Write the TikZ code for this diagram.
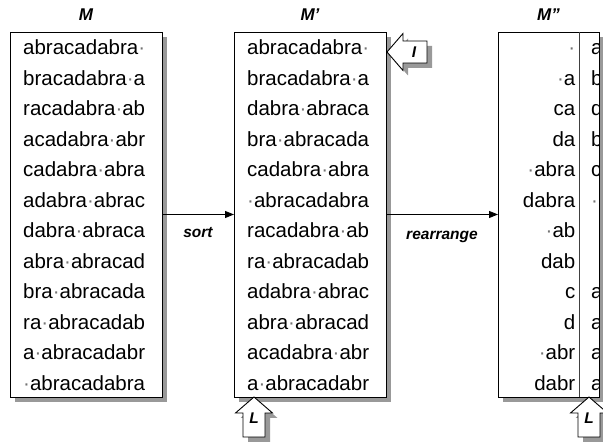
\documentclass[tikz,border=0pt]{standalone}
\usepackage{fontspec}
\setmainfont{Liberation Sans}
\usetikzlibrary{shadows,arrows.meta,calc}
\definecolor{shadowgray}{RGB}{153,153,153}
% separator between the end and the start of the rotated word
\newcommand{\sd}{\textcolor{black!55}{·}}
\tikzset{
  matbox/.style={draw=black, line width=0.9pt, fill=white, inner sep=0pt, outer sep=0pt,
    anchor=north west,
    drop shadow={shadow xshift=5pt, shadow yshift=-5pt, fill=shadowgray, opacity=1}},
  row/.style={font=\fontsize{20.5}{24}\selectfont, inner sep=0pt, anchor=base west},
  rrow/.style={row, anchor=base east},
  title/.style={font=\fontsize{17}{20}\selectfont\bfseries\itshape, inner sep=0pt},
  oplabel/.style={font=\fontsize{15.5}{18}\selectfont\bfseries\itshape, inner sep=0pt, anchor=base},
  flow/.style={line width=0.9pt, -{Triangle[length=9pt,width=7pt]}},
  blockarrow/.style={draw=black, line width=0.9pt, fill=white, line join=miter},
  blockshadow/.style={fill=shadowgray, draw=none},
}
\begin{document}
\begin{tikzpicture}[x=1pt,y=1pt]
\useasboundingbox (0,0) rectangle (603,443);

% the three matrices
\node[matbox, minimum width=152pt, minimum height=365pt] (M)   at (10,411)  {};
\node[matbox, minimum width=152pt, minimum height=365pt] (Mp)  at (234,411) {};
\node[matbox, minimum width=101pt, minimum height=365pt] (Mpp) at (498,411) {};
\coordinate (split) at ([xshift=81pt]Mpp.north west);
\draw[line width=0.8pt, black!75] (split) -- (split |- Mpp.south);

% titles
\node[title] (tM)   at (M.north |- 0,428)   {M};
\node[title] (tMp)  at (Mp.north |- 0,428)  {M'};
\node[title] (tMpp) at (Mpp.north |- 0,428) {M''};

% rows of M
\foreach \t [count=\i] in {abracadabra\sd, bracadabra\sd a, racadabra\sd ab, acadabra\sd abr,
    cadabra\sd abra, adabra\sd abrac, dabra\sd abraca, abra\sd abracad, bra\sd abracada,
    ra\sd abracadab, a\sd abracadabr, \sd abracadabra}
  \node[row] (m\i) at (23, 388-30.5*\i+30.5) {\t};

% rows of M' (sorted)
\foreach \t [count=\i] in {abracadabra\sd, bracadabra\sd a, dabra\sd abraca, bra\sd abracada,
    cadabra\sd abra, \sd abracadabra, racadabra\sd ab, ra\sd abracadab, adabra\sd abrac,
    abra\sd abracad, acadabra\sd abr, a\sd abracadabr}
  \node[row] (mp\i) at (247, 388-30.5*\i+30.5) {\t};

% rows of M'' (rearranged), left part
\foreach \t [count=\i] in {\sd, \sd a, ca, da, \sd abra, dabra, \sd ab, dab, c, d, \sd abr, dabr}
  \node[rrow] (mpp\i) at (575.5, 388-30.5*\i+30.5) {\t};

% rows of M'', last column (cut by the box edge)
\begin{scope}
  \clip (split) rectangle (Mpp.south east);
  \foreach \t [count=\i] in {a, b, d, b, c, \sd, {}, {}, a, a, a, a}
    \node[row] (mpl\i) at (591, 388-30.5*\i+30.5) {\t};
\end{scope}

% transformations
\draw[flow] (M.east) -- (Mp.west);
\coordinate (sortmid) at ($(M.east)!0.5!(Mp.west)$);
\node[oplabel] (sortlbl) at ([yshift=-23pt]sortmid) {sort};
\draw[flow] (Mp.east) -- (Mpp.west);
\coordinate (rearrmid) at ($(Mp.east)!0.5!(Mpp.west)$);
\node[oplabel] (rearrlbl) at ([yshift=-25pt]rearrmid) {rearrange};

% index arrow I
\coordinate (Itip) at ([xshift=1pt,yshift=-20pt]Mp.north east);
\fill[blockshadow] ([shift={(5pt,-5pt)}]Itip) -- ++(16,18.5) -- ++(0,-7.5) -- ++(24,0)
  -- ++(0,-22) -- ++(-24,0) -- ++(0,-7.5) -- cycle;
\draw[blockarrow] (Itip) -- ++(16,18.5) -- ++(0,-7.5) -- ++(24,0)
  -- ++(0,-22) -- ++(-24,0) -- ++(0,-7.5) -- cycle;
\node[oplabel] (Ilbl) at ([xshift=27pt,yshift=-5.5pt]Itip) {I};

% last-column arrows L
\coordinate (Ltip1) at ([xshift=20pt]Mp.south west);
\coordinate (Ltip2) at ([xshift=10pt]split |- Mpp.south);
\foreach \c [count=\k] in {Ltip1, Ltip2} {
  \fill[blockshadow] ([shift={(5pt,-5pt)}]\c) -- ++(18.5,-16) -- ++(-7.5,0) -- ++(0,-24)
    -- ++(-22,0) -- ++(0,24) -- ++(-7.5,0) -- cycle;
  \draw[blockarrow] (\c) -- ++(18.5,-16) -- ++(-7.5,0) -- ++(0,-24)
    -- ++(-22,0) -- ++(0,24) -- ++(-7.5,0) -- cycle;
  \node[oplabel] (Llbl\k) at ([yshift=-27pt]\c) {L};
}
\end{tikzpicture}
\end{document}
